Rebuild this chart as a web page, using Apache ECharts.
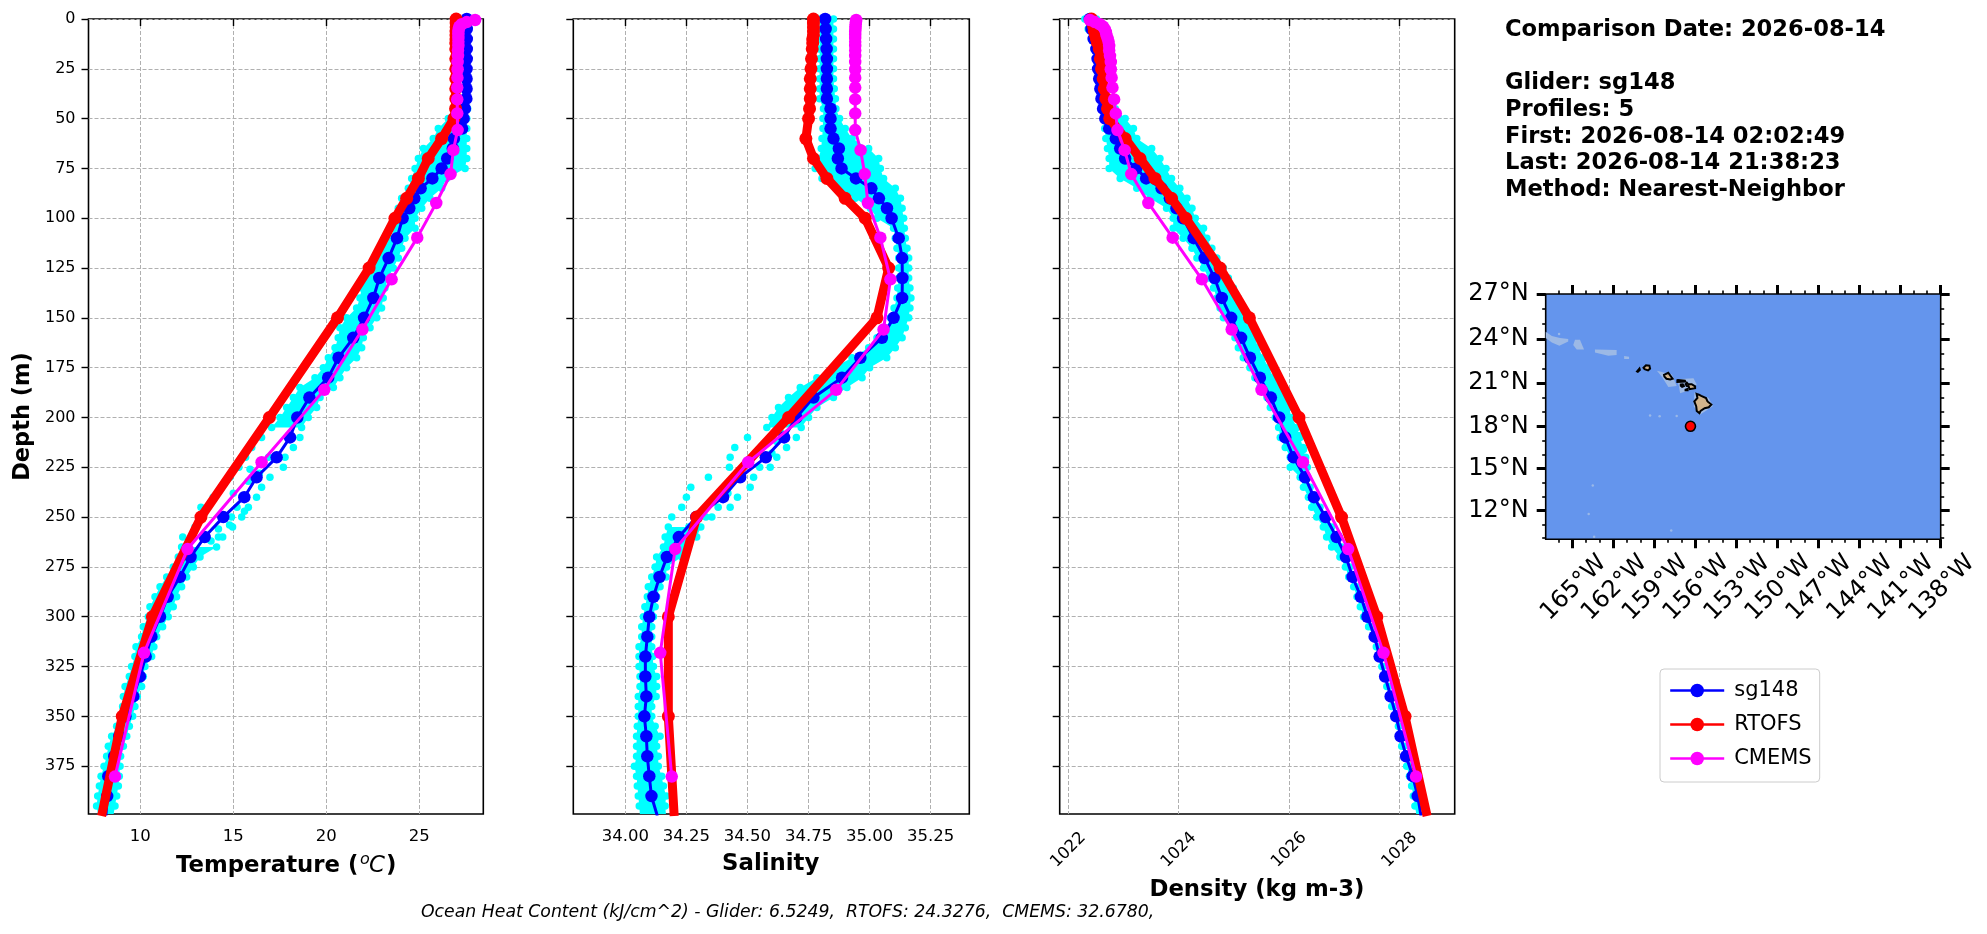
<!DOCTYPE html>
<html><head><meta charset="utf-8">
<style>html,body{margin:0;padding:0;background:#fff}#c{width:1987px;height:934px}</style>
<script src="https://cdn.jsdelivr.net/npm/echarts@6/dist/echarts.min.js"></script>
</head><body><div id="c"></div>
<script>
// ---------- profile data ----------
const gliderDepth=[0,5,10,15,20,25,30,35,40,45,50,55,60,65,70,75,80,85,90,95,100,110,120,130,140,150,160,170,180,190,200,210,220,230,240,250,260,270,280,290,300,310,320,330,340,350,360,370,380,390,400];
const gliderTemp=[27.55,27.55,27.55,27.55,27.55,27.54,27.54,27.54,27.53,27.45,27.38,27.3,26.86,26.8,26.5,26.2,25.7,25.07,24.73,24.46,24.1,23.8,23.35,22.85,22.53,22.03,21.45,20.66,20.1,19.09,18.44,18.05,17.33,16.25,15.59,14.46,13.46,12.7,12.13,11.47,11.06,10.6,10.29,9.98,9.62,9.2,8.87,8.6,8.28,8.22,8.15];
const gliderSal=[34.818,34.82,34.822,34.824,34.825,34.825,34.825,34.825,34.825,34.84,34.84,34.84,34.852,34.874,34.87,34.885,34.944,35.007,35.038,35.071,35.09,35.119,35.133,35.134,35.133,35.098,35.05,34.962,34.887,34.77,34.7,34.65,34.575,34.47,34.4,34.29,34.219,34.17,34.14,34.115,34.098,34.09,34.082,34.082,34.086,34.078,34.086,34.09,34.098,34.107,34.131];
const gliderDens=[1022.39,1022.42,1022.46,1022.51,1022.53,1022.54,1022.56,1022.58,1022.6,1022.63,1022.67,1022.74,1022.86,1022.94,1023.03,1023.23,1023.41,1023.69,1023.84,1023.96,1024.08,1024.27,1024.47,1024.65,1024.78,1024.95,1025.13,1025.29,1025.47,1025.67,1025.82,1025.93,1026.08,1026.29,1026.45,1026.66,1026.86,1027.03,1027.15,1027.3,1027.42,1027.55,1027.64,1027.74,1027.84,1027.94,1028.02,1028.12,1028.24,1028.33,1028.39];

const rtofsDepth=[0,2,4,6,8,10,12,15,20,25,30,35,40,45,50,60,70,80,90,100,125,150,200,250,300,350,400];
const rtofsTemp=[26.98,26.98,26.98,26.97,26.97,26.97,26.96,26.96,26.96,26.96,26.96,26.96,26.96,26.95,26.86,26.2,25.48,24.95,24.32,23.69,22.3,20.6,16.94,13.26,10.65,9.03,7.92];
const rtofsSal=[34.77,34.77,34.77,34.77,34.77,34.767,34.767,34.765,34.762,34.76,34.757,34.757,34.757,34.754,34.75,34.739,34.77,34.825,34.9,34.982,35.078,35.03,34.668,34.292,34.176,34.176,34.2];
const rtofsDens=[1022.42,1022.44,1022.46,1022.47,1022.49,1022.51,1022.53,1022.56,1022.58,1022.6,1022.63,1022.65,1022.68,1022.71,1022.75,1023.03,1023.3,1023.57,1023.87,1024.13,1024.75,1025.28,1026.18,1026.95,1027.59,1028.1,1028.5];

const cmemsDepth=[0.49,1.54,2.65,3.82,5.08,6.44,7.93,9.57,11.41,13.47,15.81,18.5,21.6,25.21,29.44,34.43,40.34,47.37,55.76,65.81,77.85,92.33,109.73,130.67,155.85,186.13,222.48,266.04,318.13,380.21];
const cmemsTemp=[28.0,27.55,27.28,27.15,27.12,27.1,27.1,27.1,27.1,27.1,27.08,27.08,27.06,27.06,27.05,27.04,27.04,27.04,27.06,26.83,26.68,25.91,24.89,23.51,21.94,19.89,16.52,12.54,10.2,8.64];
const cmemsSal=[34.945,34.944,34.943,34.942,34.942,34.941,34.941,34.941,34.941,34.941,34.941,34.941,34.941,34.941,34.941,34.941,34.941,34.941,34.941,34.963,34.98,34.993,35.044,35.085,35.057,34.863,34.503,34.204,34.143,34.19];
const cmemsDens=[1022.39,1022.48,1022.57,1022.63,1022.66,1022.68,1022.69,1022.71,1022.73,1022.74,1022.74,1022.755,1022.77,1022.77,1022.785,1022.8,1022.83,1022.86,1022.89,1023.02,1023.14,1023.45,1023.89,1024.42,1024.96,1025.5,1026.25,1027.07,1027.71,1028.3];

// individual glider profile samples: left and right envelope of the cloud per depth level
const cloudDepth=[0,5,10,15,20,25,30,35,40,45,50,55,60,65,70,75,80,85,90,95,100,105,110,115,120,125,130,135,140,145,150,155,160,165,170,175,180,185,190,195,200,205,210,215,220,225,230,235,240,245,250,255,260,265,270,275,280,285,290,295,300,305,310,315,320,325,330,335,340,345,350,355,360,365,370,375,380,385,390,395,400];
const tempLeft=[27.5,27.5,27.5,27.5,27.5,27.5,27.5,27.5,27.5,27.4,26.56,26.02,25.75,25.22,24.95,24.77,24.59,24.41,24.05,23.87,23.78,23.69,23.42,23.06,22.71,22.35,22.08,21.9,21.81,21.63,21.09,20.73,20.64,20.47,20.11,19.84,19.39,18.58,18.23,17.87,17.51,17.06,16.52,15.99,15.66,15.3,14.82,14.37,13.92,13.26,13.39,12.94,12.28,12.22,12.04,11.77,11.42,11.06,10.79,10.52,10.43,10.16,10.07,9.77,9.71,9.53,9.41,9.18,9.09,9.05,8.94,8.73,8.46,8.28,8.19,8.05,7.89,7.8,7.71,7.65,7.74];
const tempRight=[27.6,27.6,27.6,27.6,27.6,27.6,27.6,27.6,27.6,27.6,27.55,27.55,27.55,27.55,27.55,27.46,26.47,26.2,25.57,25.13,24.77,24.77,24.23,24.05,23.87,23.6,23.33,23.15,23.06,22.97,22.71,22.35,21.99,21.9,21.63,21.09,20.73,20.38,19.66,19.48,19.03,18.67,18.58,18.23,17.78,17.69,16.97,16.52,16.25,15.81,15.45,14.96,14.43,14.1,13.21,12.85,12.49,12.22,11.95,11.77,11.5,11.2,10.88,10.73,10.61,10.25,10.16,10.07,9.84,9.71,9.59,9.41,9.27,9.09,8.94,8.91,8.87,8.82,8.73,8.64,8.55];
const salLeft=[34.795,34.795,34.795,34.795,34.795,34.795,34.795,34.795,34.795,34.811,34.809,34.809,34.805,34.802,34.791,34.777,34.805,34.87,34.941,35.003,35.03,35.098,35.105,35.112,35.119,35.119,35.119,35.115,35.112,35.1,35.085,35.07,35.03,34.996,34.928,34.852,34.784,34.716,34.668,34.627,34.6,34.579,34.5,34.448,34.429,34.426,34.34,34.268,34.25,34.231,34.19,34.176,34.163,34.156,34.128,34.122,34.108,34.094,34.09,34.08,34.074,34.067,34.067,34.056,34.056,34.056,34.06,34.06,34.053,34.053,34.053,34.049,34.046,34.046,34.046,34.037,34.046,34.049,34.053,34.057,34.06];
const salRight=[34.852,34.852,34.852,34.852,34.852,34.852,34.852,34.855,34.86,34.862,34.877,34.9,34.928,34.996,35.037,35.044,35.057,35.105,35.126,35.133,35.139,35.142,35.146,35.153,35.16,35.16,35.16,35.165,35.169,35.165,35.16,35.146,35.133,35.105,35.07,35.0,34.969,34.907,34.852,34.784,34.75,34.72,34.7,34.66,34.62,34.593,34.525,34.511,34.459,34.429,34.354,34.309,34.292,34.251,34.231,34.169,34.167,34.142,34.128,34.122,34.115,34.108,34.108,34.108,34.112,34.115,34.128,34.128,34.126,34.108,34.108,34.122,34.142,34.128,34.135,34.135,34.149,34.156,34.167,34.163,34.167];
const densLeft=[1022.3,1022.36,1022.42,1022.47,1022.5,1022.53,1022.56,1022.59,1022.62,1022.63,1022.65,1022.66,1022.68,1022.71,1022.74,1022.74,1022.94,1023.24,1023.48,1023.78,1023.9,1023.9,1024.08,1024.24,1024.33,1024.45,1024.54,1024.63,1024.69,1024.75,1024.81,1024.93,1025.02,1025.08,1025.17,1025.29,1025.38,1025.47,1025.6,1025.66,1025.75,1025.81,1025.84,1025.93,1026.02,1026.02,1026.2,1026.26,1026.35,1026.41,1026.5,1026.62,1026.68,1026.77,1026.92,1027.02,1027.08,1027.17,1027.23,1027.29,1027.35,1027.44,1027.53,1027.58,1027.62,1027.68,1027.72,1027.77,1027.82,1027.86,1027.91,1027.98,1028.01,1028.04,1028.1,1028.13,1028.18,1028.22,1028.25,1028.28,1028.31];
const densRight=[1022.51,1022.54,1022.57,1022.6,1022.63,1022.63,1022.66,1022.69,1022.73,1022.85,1023.03,1023.18,1023.24,1023.51,1023.66,1023.77,1023.87,1024.02,1024.15,1024.24,1024.3,1024.45,1024.51,1024.6,1024.69,1024.81,1024.9,1024.99,1025.08,1025.17,1025.23,1025.29,1025.38,1025.44,1025.53,1025.63,1025.72,1025.84,1025.93,1025.99,1026.05,1026.14,1026.2,1026.25,1026.3,1026.33,1026.3,1026.38,1026.46,1026.56,1026.67,1026.77,1026.87,1026.95,1027.04,1027.1,1027.16,1027.23,1027.31,1027.37,1027.43,1027.5,1027.56,1027.6,1027.65,1027.7,1027.75,1027.8,1027.85,1027.9,1027.95,1027.99,1028.03,1028.08,1028.13,1028.19,1028.25,1028.3,1028.34,1028.37,1028.4];
// loose samples inside the sparse part of each cloud
const tempExtraDepth=[228,232,238,245,247,250,254,256,260,262,220,226];
const tempExtra=[16.4,15.8,15.0,15.2,15.6,14.9,14.8,14.2,14.2,13.8,16.9,15.9];
const salExtraDepth=[212,218,225,232,238,245,250,255,208];
const salExtra=[34.62,34.6,34.55,34.44,34.42,34.38,34.33,34.26,34.64];
const densExtraDepth=[209,216];
const densExtra=[1026.17,1026.26];
// contiguous depth spans of each cloud (solid part)
const tempSpans=[[45,205],[265,400]];
const salSpans=[[0,205],[255,400]];
const densSpans=[[0,400]];

// ---------- axis ticks ----------
const depthTicks=[0,25,50,75,100,125,150,175,200,225,250,275,300,325,350,375];
const tempTicks=[10,15,20,25];
const salTicks=[34,34.25,34.5,34.75,35,35.25];
const densTicks=[1022,1024,1026,1028];
const lonTicks=[-165,-162,-159,-156,-153,-150,-147,-144,-141,-138];
const latTicks=[12,15,18,21,24,27];
const lonMinor=[-167,-166,-164,-163,-161,-160,-158,-157,-155,-154,-152,-151,-149,-148,-146,-145,-143,-142,-140,-139];
const latMinor=[10,11,13,14,16,17,19,20,22,23,25,26];

// ---------- map data (lon/lat) ----------
const gliderLon=[-156.34];
const gliderLat=[18.0];
const landPolys=[
 [[-155.89,20.26],[-155.72,20.2],[-155.55,20.12],[-155.2,19.97],[-155.09,19.73],[-154.81,19.52],[-155.0,19.33],[-155.3,19.26],[-155.6,19.08],[-155.68,18.92],[-155.88,19.07],[-155.92,19.4],[-156.06,19.73],[-155.83,19.97]],
 [[-156.7,20.93],[-156.6,21.03],[-156.5,20.92],[-156.25,20.93],[-156.0,20.78],[-156.0,20.65],[-156.4,20.58],[-156.47,20.78],[-156.6,20.8]],
 [[-157.3,21.2],[-157.25,21.22],[-156.75,21.17],[-156.72,21.1],[-157.3,21.08]],
 [[-157.05,20.9],[-156.9,20.92],[-156.82,20.8],[-156.95,20.74],[-157.05,20.82]],
 [[-156.7,20.55],[-156.55,20.6],[-156.55,20.5],[-156.7,20.5]],
 [[-158.28,21.57],[-157.97,21.71],[-157.65,21.3],[-157.82,21.25],[-158.1,21.3],[-158.25,21.45]],
 [[-159.78,22.05],[-159.6,22.22],[-159.35,22.2],[-159.3,22.0],[-159.45,21.87],[-159.7,21.95]],
 [[-160.25,21.8],[-160.08,22.0],[-160.05,21.9],[-160.2,21.78]]
];
const shelfPolys=[
 [[-166.95,24.5],[-166.5,24.2],[-165.9,24.07],[-165.3,24.0],[-165.3,23.84],[-165.95,23.55],[-166.5,23.77],[-166.95,24.07]],
 [[-164.8,23.95],[-164.44,23.95],[-164.14,23.3],[-164.68,23.3],[-164.93,23.6]],
 [[-163.34,23.3],[-161.75,23.27],[-161.75,22.93],[-162.36,22.87],[-163.34,23.1]],
 [[-161.2,22.85],[-160.84,22.8],[-160.84,22.65],[-161.2,22.65]],
 [[-158.8,21.85],[-157.7,21.6],[-157.35,20.8],[-157.96,20.73],[-158.45,21.45]],
 [[-157.35,21.27],[-156.12,21.34],[-155.88,20.9],[-156.6,20.45],[-157.1,20.3],[-157.18,20.77]],
 [[-156.05,20.35],[-155.0,19.98],[-154.7,19.4],[-155.65,18.8],[-156.1,19.4]]
];
const shoalLon=[-159.3,-158.6,-157.35,-163.5,-163.8,-157.75,-163.4,-165.97];
const shoalLat=[18.75,18.7,18.72,13.8,11.75,10.55,10.1,24.35];

// ---------- labels ----------
const infoLines=['Comparison Date: 2026-08-14','','Glider: sg148','Profiles: 5','First: 2026-08-14 02:02:49','Last: 2026-08-14 21:38:23','Method: Nearest-Neighbor'];
const footer='Ocean Heat Content (kJ/cm^2) - Glider: 6.5249,  RTOFS: 24.3276,  CMEMS: 32.6780,';

const FONT='DejaVu Sans';
const zip=(xs,ys)=>xs.map((x,i)=>[x,ys[i]]);
const merc=lat=>Math.asinh(Math.tan(lat*Math.PI/180));
const BLUE='#0000ff',RED='#ff0000',MAG='#ff00ff',CY='#00ffff';
const PLOT_TOP=19,PLOT_H=795;
const panels=[
 {left:88.5,width:394.8,min:7.215,max:28.44,ticks:tempTicks,fmt:v=>String(v)},
 {left:573.3,width:396,min:33.787,max:35.408,ticks:salTicks,fmt:v=>v.toFixed(2)},
 {left:1059.7,width:395,min:1021.844,max:1029.0,ticks:densTicks,fmt:v=>String(v),rot:45}
];
const grid=panels.map(p=>({left:p.left,width:p.width,top:PLOT_TOP,height:PLOT_H,show:true,borderColor:'#000',borderWidth:1.6,backgroundColor:'#fff'}));
const xAxis=panels.map((p,i)=>({type:'value',gridIndex:i,min:p.min,max:p.max,position:'bottom',
 axisLine:{show:false},
 axisTick:{show:true,length:7,customValues:p.ticks,lineStyle:{color:'#000',width:1.4}},
 axisLabel:{customValues:p.ticks,formatter:p.fmt,color:'#000',fontFamily:FONT,fontSize:16.5,rotate:p.rot||0,margin:p.rot?36:14,
   align:'center',verticalAlign:p.rot?'middle':'top',hideOverlap:false,showMinLabel:true,showMaxLabel:true},
 splitLine:{show:true,customValues:p.ticks,lineStyle:{color:'#b0b0b0',type:'dashed',width:1}}}));
const yAxis=panels.map((p,i)=>({type:'value',gridIndex:i,min:0,max:399,inverse:true,
 axisLine:{show:false},
 axisTick:{show:true,length:7,customValues:depthTicks,lineStyle:{color:'#000',width:1.4}},
 axisLabel:{show:i===0,customValues:depthTicks,color:'#000',fontFamily:FONT,fontSize:16,margin:13,showMinLabel:true,padding:[2,0,0,0]},
 splitLine:{show:true,customValues:depthTicks,lineStyle:{color:'#b0b0b0',type:'dashed',width:1}},
 name:i===0?'Depth (m)':'',nameLocation:'middle',nameGap:54,nameRotate:90,
 nameTextStyle:{color:'#000',fontFamily:FONT,fontWeight:'bold',fontSize:22.5}}));

function polyItem(polys,fill,stroke,lw){
 return function(params,api){
  const pts=polys[api.value(0)].map(p=>api.coord(p));
  return {type:'polygon',shape:{points:pts},style:{fill:fill,stroke:stroke||null,lineWidth:lw||0}};
 };
}
function bandPolys(left,right,spans){
 return spans.map(([a,b])=>{
  const l=[],r=[];
  cloudDepth.forEach((d,i)=>{ if(d>=a&&d<=b){ l.push([left[i],d]); r.push([right[i],d]); } });
  return l.concat(r.reverse());
 });
}
const series=[];
const vars=[
 {g:gliderTemp,r:rtofsTemp,m:cmemsTemp,l:tempLeft,rr:tempRight,sp:tempSpans,ed:tempExtraDepth,ev:tempExtra},
 {g:gliderSal,r:rtofsSal,m:cmemsSal,l:salLeft,rr:salRight,sp:salSpans,ed:salExtraDepth,ev:salExtra},
 {g:gliderDens,r:rtofsDens,m:cmemsDens,l:densLeft,rr:densRight,sp:densSpans,ed:densExtraDepth,ev:densExtra}
];
vars.forEach((v,i)=>{
 const polys=bandPolys(v.l,v.rr,v.sp);
 series.push({type:'custom',xAxisIndex:i,yAxisIndex:i,clip:true,silent:true,z:2,data:polys.map((_,k)=>[k]),renderItem:polyItem(polys,CY)});
 const dots=zip(v.l,cloudDepth).concat(zip(v.rr,cloudDepth),zip(v.ev,v.ed));
 series.push({type:'scatter',xAxisIndex:i,yAxisIndex:i,clip:true,silent:true,z:3,symbolSize:7.5,itemStyle:{color:CY,opacity:1},data:dots});
 const ln=(name,xs,ys,color,w,sz,z)=>({type:'line',name,xAxisIndex:i,yAxisIndex:i,clip:true,z,silent:true,symbol:'circle',symbolSize:sz,showSymbol:true,showAllSymbol:true,
   lineStyle:{color,width:w},itemStyle:{color,opacity:1},data:zip(xs,ys)});
 series.push(ln('sg148',v.g,gliderDepth,BLUE,3,12.5,4));
 series.push(ln('RTOFS',v.r,rtofsDepth,RED,9,13,5));
 series.push(ln('CMEMS',v.m,cmemsDepth,MAG,3,12.5,6));
});
// ---------- map ----------
const MAP_RECT={left:1545.7,width:395,top:294,height:245.3};
grid.push(Object.assign({show:true,borderColor:'#000',borderWidth:1.6,backgroundColor:'#6495ED'},MAP_RECT));
grid.push(Object.assign({show:false},MAP_RECT));
const lonRange={min:-166.95,max:-138};
const latRange={min:merc(9.92),max:merc(27)};
const latVals=latTicks.map(merc);
const latFmt=v=>{let b=latTicks[0],d=1e9;latTicks.forEach(t=>{const e=Math.abs(merc(t)-v);if(e<d){d=e;b=t;}});return b+'°N';};
const lonFmt=v=>Math.abs(Math.round(v))+'°W';
const tickLine=w=>({color:'#000',width:w});
const mkX=(g,pos,vals,len,w,lab)=>Object.assign({type:'value',gridIndex:g,position:pos},lonRange,{axisLine:{show:false},splitLine:{show:false},
 axisTick:{show:true,length:len,customValues:vals,lineStyle:tickLine(w)},
 axisLabel:lab?{customValues:vals,formatter:lonFmt,color:'#000',fontFamily:FONT,fontSize:24,rotate:45,margin:50,align:'center',verticalAlign:'middle',hideOverlap:false,showMaxLabel:true,padding:[0,0,0,4]}:{show:false}});
const mkY=(g,pos,vals,len,w,lab)=>Object.assign({type:'value',gridIndex:g,position:pos},latRange,{axisLine:{show:false},splitLine:{show:false},
 axisTick:{show:true,length:len,customValues:vals,lineStyle:tickLine(w)},
 axisLabel:lab?{customValues:vals,formatter:latFmt,color:'#000',fontFamily:FONT,fontSize:24,margin:17,hideOverlap:false,showMaxLabel:true,padding:[6,0,0,0]}:{show:false}});
xAxis.push(mkX(3,'bottom',lonTicks,9,3,true));     // idx 3
xAxis.push(mkX(3,'top',lonTicks,9,3,false));       // idx 4
xAxis.push(mkX(4,'bottom',lonMinor,3.5,1.6,false));  // idx 5
xAxis.push(mkX(4,'top',lonMinor,3.5,1.6,false));     // idx 6
yAxis.push(mkY(3,'left',latVals,9,3,true));        // idx 3
yAxis.push(mkY(3,'right',latVals,9,3,false));      // idx 4
yAxis.push(mkY(4,'left',latMinor.map(merc),3.5,1.6,false)); // idx 5
yAxis.push(mkY(4,'right',latMinor.map(merc),3.5,1.6,false));// idx 6
const toMap=polys=>polys.map(p=>p.map(([a,b])=>[a,merc(b)]));
const shelf=toMap(shelfPolys),land=toMap(landPolys);
series.push({type:'custom',xAxisIndex:3,yAxisIndex:3,clip:true,silent:true,z:2,data:shelf.map((_,k)=>[k]),renderItem:polyItem(shelf,'#9cb9e6')});
series.push({type:'scatter',xAxisIndex:3,yAxisIndex:3,clip:true,silent:true,z:3,symbolSize:2.5,itemStyle:{color:'#a8c0e6'},data:zip(shoalLon,shoalLat.map(merc))});
series.push({type:'custom',xAxisIndex:3,yAxisIndex:3,clip:true,silent:true,z:4,data:land.map((_,k)=>[k]),renderItem:polyItem(land,'#D2B48C','#000',2)});
series.push({type:'scatter',xAxisIndex:3,yAxisIndex:3,silent:true,z:5,symbolSize:10,itemStyle:{color:RED,borderColor:'#000',borderWidth:1.6,opacity:1},data:zip(gliderLon,gliderLat.map(merc))});
// axis-name texts and notes
const graphic=[];
const boldSize=22.8;
const bold={fill:'#000',fontFamily:FONT,fontWeight:'bold',fontSize:boldSize,textAlign:'center',textVerticalAlign:'middle'};
graphic.push({type:'text',x:770.7,y:864,style:Object.assign({text:'Salinity'},bold)});
graphic.push({type:'text',x:1257,y:890,style:Object.assign({text:'Density (kg m-3)'},bold)});
graphic.push({type:'text',x:176,y:866,style:{text:'Temperature (',fill:'#000',fontFamily:FONT,fontWeight:'bold',fontSize:boldSize,textAlign:'left',textVerticalAlign:'middle'}});
graphic.push({type:'text',x:360,y:860,style:{text:'o',fill:'#000',fontFamily:FONT,fontStyle:'italic',fontSize:16,textAlign:'left',textVerticalAlign:'middle'}});
graphic.push({type:'text',x:369,y:866,style:{text:'C',fill:'#000',fontFamily:FONT,fontStyle:'italic',fontSize:boldSize,textAlign:'left',textVerticalAlign:'middle'}});
graphic.push({type:'text',x:386,y:866,style:{text:')',fill:'#000',fontFamily:FONT,fontWeight:'bold',fontSize:boldSize,textAlign:'left',textVerticalAlign:'middle'}});
const infoY=[30.5,null,83.5,110.5,137,163.5,190.5];
infoLines.forEach((t,i)=>{ if(t) graphic.push({type:'text',x:1505,y:infoY[i],style:{text:t,fill:'#000',fontFamily:FONT,fontWeight:'bold',fontSize:22.6,textAlign:'left',textVerticalAlign:'middle'}}); });
graphic.push({type:'text',x:421,y:913,style:{text:footer,fill:'#000',fontFamily:FONT,fontStyle:'italic',fontSize:17.3,textAlign:'left',textVerticalAlign:'middle'}});

const chart=echarts.init(document.getElementById('c'),null,{renderer:'canvas',width:1987,height:934});
chart.setOption({animation:false,backgroundColor:'#fff',grid,xAxis,yAxis,series,graphic,
 legend:{data:['sg148','RTOFS','CMEMS'],orient:'vertical',left:1660,top:669,padding:[11,8,13,9],itemGap:13,itemWidth:54,itemHeight:17,
  backgroundColor:'#fff',borderColor:'#ccc',borderWidth:1,borderRadius:4,lineStyle:{width:2.4},
  textStyle:{color:'#000',fontFamily:FONT,fontSize:21,padding:[0,0,0,5]},selectedMode:false}
});
</script></body></html>
